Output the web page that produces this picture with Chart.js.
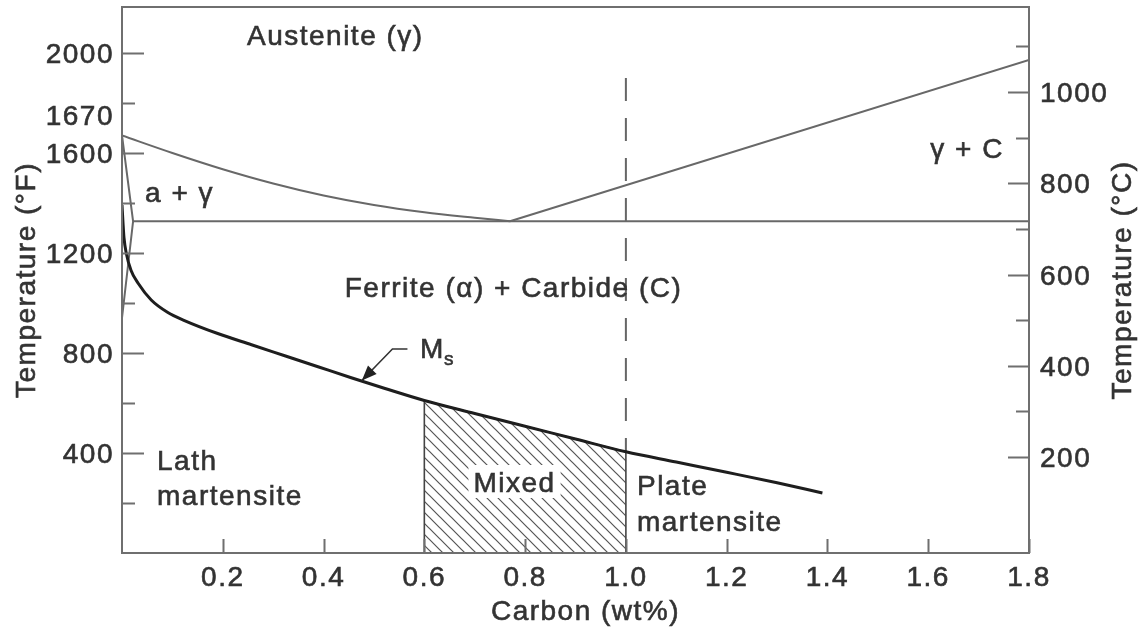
<!DOCTYPE html>
<html>
<head>
<meta charset="utf-8">
<script src="https://cdn.jsdelivr.net/npm/chart.js@4.4.1/dist/chart.umd.min.js"></script>
<style>
  body { margin: 0; background: #fff; }
  canvas { display: block; }
</style>
</head>
<body>
<canvas id="grafica" width="1145" height="628"></canvas>
<script>
// Curvas del diagrama (carbono en % peso, temperatura en °F)
const a3Carbono = [0, 0.1, 0.2, 0.3, 0.4, 0.5, 0.6, 0.7, 0.77];
const a3Temp = [1670, 1600, 1535, 1478, 1430, 1392, 1363, 1341, 1327];

const acmCarbono = [0.77, 1.8];
const acmTemp = [1327, 1972];

const a1Carbono = [0.022, 1.8];
const a1Temp = [1327, 1327];

// Limites de la zona alfa + gamma
const alfaCarbono = [0, 0.022, 0];
const alfaTemp = [1670, 1327, 940];

// Temperatura Ms
const msCarbono = [0, 0.002, 0.004, 0.0085, 0.018, 0.032, 0.058, 0.091, 0.124, 0.19, 0.257, 0.323, 0.389, 0.455, 0.522, 0.6, 0.7, 0.8, 0.9, 1.0, 1.1, 1.2, 1.3, 1.39];
const msTemp = [1392, 1320, 1260, 1199, 1130, 1079, 1012, 962, 930, 878, 833, 789, 745, 701, 658, 610, 558, 507, 456, 405, 364, 323, 281, 240];

// Zona mixta entre estos contenidos de carbono
const mixtaDesde = 0.6;
const mixtaHasta = 1.0;
const lineaPunteadaTope = 1900;

// Ejes
const ticksCarbono = [0.2, 0.4, 0.6, 0.8, 1.0, 1.2, 1.4, 1.6, 1.8];
const ticksF = [200, 400, 600, 800, 1000, 1200, 1400, 1600, 1800, 2000];
const etiquetasF = [[400, '400'], [800, '800'], [1200, '1200'], [1600, '1600'], [1752, '1670'], [2000, '2000']];
const ticksC = [200, 300, 400, 500, 600, 700, 800, 900, 1000, 1100];
const etiquetasC = [200, 400, 600, 800, 1000];

// Textos dentro de la grafica: [texto, carbono, °F, alineacion]
const textos = [
    ['Austenite (\u03b3)', 0.248, 2032, 'left'],
    ['\u03b3 + C', 1.604, 1580, 'left'],
    ['a + \u03b3', 0.0457, 1404, 'left'],
    ['Ferrite (\u03b1) + Carbide (C)', 0.442, 1024, 'left'],
    ['Lath', 0.0695, 332, 'left'],
    ['martensite', 0.0695, 192, 'left'],
    ['Plate', 1.022, 232, 'left'],
    ['martensite', 1.022, 88, 'left']
];

const FUENTE = '"Liberation Sans", Arial, sans-serif';
const COLOR_EJE = '#6f6f6f';
const COLOR_TEXTO = '#333';

function puntos(xs, ys){
    return xs.map((x, i) => ({x: x, y: ys[i]}));
}

// Patron rayado para la zona mixta
function patronRayado(){
    const s = 11;
    const c = document.createElement('canvas');
    c.width = s;
    c.height = s;
    const g = c.getContext('2d');
    g.strokeStyle = '#555';
    g.lineWidth = 1.2;
    g.beginPath();
    g.moveTo(-1, -1); g.lineTo(s + 1, s + 1);
    g.moveTo(-1, s - 1); g.lineTo(1, s + 1);
    g.moveTo(s - 1, -1); g.lineTo(s + 1, 1);
    g.stroke();
    return document.getElementById('grafica').getContext('2d').createPattern(c, 'repeat');
}

const msPuntos = puntos(msCarbono, msTemp);
const msEnLimite = msTemp[msCarbono.indexOf(mixtaHasta)];
const zonaMixta = [{x: mixtaDesde, y: 0}]
    .concat(msPuntos.filter(p => p.x >= mixtaDesde && p.x <= mixtaHasta))
    .concat([{x: mixtaHasta, y: 0}]);

// Texto con un trazo fino para que se vea mas grueso
function escribir(c, str, x, y, size, align){
    c.font = size + 'px ' + FUENTE;
    c.textAlign = align;
    c.fillText(str, x, y);
    c.strokeStyle = c.fillStyle;
    c.lineWidth = 0.6;
    c.strokeText(str, x, y);
}

const decorado = {
    id: 'decorado',
    afterDatasetsDraw(chart){
        const c = chart.ctx;
        const {left, right, top, bottom} = chart.chartArea;
        const sx = chart.scales.x;
        const sy = chart.scales.y;
        const sc = chart.scales.y2;

        c.save();
        c.textBaseline = 'alphabetic';
        c.letterSpacing = '1.5px';

        // "Mixed" sobre fondo blanco
        const mx = sx.getPixelForValue(0.779);
        const my = sy.getPixelForValue(244);
        c.font = '28px ' + FUENTE;
        const w = c.measureText('Mixed').width;
        c.fillStyle = '#fff';
        c.fillRect(mx - w / 2 - 5, my - 27, w + 10, 33);
        c.fillStyle = COLOR_TEXTO;
        escribir(c, 'Mixed', mx, my, 28, 'center');

        // Marco
        c.strokeStyle = COLOR_EJE;
        c.lineWidth = 2;
        c.strokeRect(left, top, right - left, bottom - top);

        // Marcas del eje x hacia dentro
        c.beginPath();
        ticksCarbono.forEach(v => {
            const px = Math.round(sx.getPixelForValue(v)) + 0.5;
            c.moveTo(px, bottom);
            c.lineTo(px, bottom - 14);
        });
        // Marcas °F
        ticksF.forEach(v => {
            const py = Math.round(sy.getPixelForValue(v)) + 0.5;
            c.moveTo(left, py);
            c.lineTo(left + (v % 400 === 0 ? 22 : 13), py);
        });
        // Marcas °C
        ticksC.forEach(v => {
            const py = Math.round(sc.getPixelForValue(v)) + 0.5;
            c.moveTo(right, py);
            c.lineTo(right - (v % 200 === 0 ? 21 : 13), py);
        });
        c.stroke();

        // Etiquetas de los ejes
        c.fillStyle = COLOR_TEXTO;
        ticksCarbono.forEach(v => {
            escribir(c, v.toFixed(1), sx.getPixelForValue(v), 586, 28, 'center');
        });
        etiquetasF.forEach(([v, t]) => {
            escribir(c, t, left - 8, sy.getPixelForValue(v) + 10, 28, 'right');
        });
        etiquetasC.forEach(v => {
            escribir(c, String(v), right + 11, sc.getPixelForValue(v) + 10, 28, 'left');
        });

        // Titulos
        escribir(c, 'Carbon (wt%)', (left + right) / 2 + 10, 620, 28, 'center');
        c.textBaseline = 'middle';
        c.save();
        c.translate(27, 280);
        c.rotate(-Math.PI / 2);
        escribir(c, 'Temperature (\u00b0F)', 0, 0, 28, 'center');
        c.restore();
        c.save();
        c.translate(1123, 280);
        c.rotate(-Math.PI / 2);
        escribir(c, 'Temperature (\u00b0C)', 0, 0, 28, 'center');
        c.restore();
        c.textBaseline = 'alphabetic';

        // Textos de las zonas
        textos.forEach(([t, x, y, al]) => {
            escribir(c, t, sx.getPixelForValue(x), sy.getPixelForValue(y), 28, al);
        });

        // Ms con subindice y flecha
        const msx = sx.getPixelForValue(0.5916);
        const msy = sy.getPixelForValue(780);
        escribir(c, 'M', msx, msy, 28, 'left');
        c.font = '28px ' + FUENTE;
        const wm = c.measureText('M').width;
        escribir(c, 's', msx + wm - 1, msy + 7, 19, 'left');

        const p0 = {x: sx.getPixelForValue(0.5665), y: sy.getPixelForValue(816)};
        const p1 = {x: sx.getPixelForValue(0.5367), y: sy.getPixelForValue(816)};
        const punta = {x: sx.getPixelForValue(0.476), y: sy.getPixelForValue(690)};
        c.strokeStyle = '#333';
        c.lineWidth = 1.6;
        c.beginPath();
        c.moveTo(p0.x, p0.y);
        c.lineTo(p1.x, p1.y);
        c.lineTo(punta.x, punta.y);
        c.stroke();
        const ang = Math.atan2(punta.y - p1.y, punta.x - p1.x);
        const largo = 15, ancho = 6;
        c.beginPath();
        c.moveTo(punta.x, punta.y);
        c.lineTo(punta.x - largo * Math.cos(ang) + ancho * Math.sin(ang), punta.y - largo * Math.sin(ang) - ancho * Math.cos(ang));
        c.lineTo(punta.x - largo * Math.cos(ang) - ancho * Math.sin(ang), punta.y - largo * Math.sin(ang) + ancho * Math.cos(ang));
        c.closePath();
        c.fillStyle = '#222';
        c.fill();

        c.restore();
    }
};

const lineaFina = {
    showLine: true,
    pointRadius: 0,
    borderColor: '#686868',
    borderWidth: 2,
    fill: false
};

new Chart(document.getElementById('grafica'), {
    type: 'scatter',
    data: {
        datasets: [
            {
                label: 'Ms',
                data: msPuntos,
                showLine: true,
                pointRadius: 0,
                borderColor: '#1e1e1e',
                borderWidth: 3,
                cubicInterpolationMode: 'monotone',
                fill: false
            },
            Object.assign({label: 'A3', data: puntos(a3Carbono, a3Temp), cubicInterpolationMode: 'monotone'}, lineaFina),
            Object.assign({label: 'Acm', data: puntos(acmCarbono, acmTemp)}, lineaFina),
            Object.assign({label: 'A1', data: puntos(a1Carbono, a1Temp)}, lineaFina),
            Object.assign({label: 'alfa', data: puntos(alfaCarbono, alfaTemp)}, lineaFina),
            {
                label: '1.0 %C',
                data: [{x: mixtaHasta, y: lineaPunteadaTope}, {x: mixtaHasta, y: msEnLimite}],
                showLine: true,
                pointRadius: 0,
                borderColor: '#666',
                borderWidth: 2,
                borderDash: [23, 17],
                fill: false
            },
            {
                label: 'Mixed',
                data: zonaMixta,
                showLine: true,
                pointRadius: 0,
                borderColor: '#444',
                borderWidth: 1.6,
                backgroundColor: patronRayado(),
                fill: 'origin'
            }
        ]
    },
    options: {
        responsive: false,
        animation: false,
        devicePixelRatio: 1,
        layout: { padding: { left: 122, top: 7, right: 116, bottom: 75 } },
        plugins: {
            legend: { display: false },
            tooltip: { enabled: false }
        },
        scales: {
            x: { type: 'linear', min: 0, max: 1.8, display: false },
            y: { type: 'linear', min: 0, max: 2184, display: false },
            y2: { type: 'linear', position: 'right', min: -10.4, max: 1186.3, display: false }
        }
    },
    plugins: [decorado]
});
</script>
</body>
</html>
